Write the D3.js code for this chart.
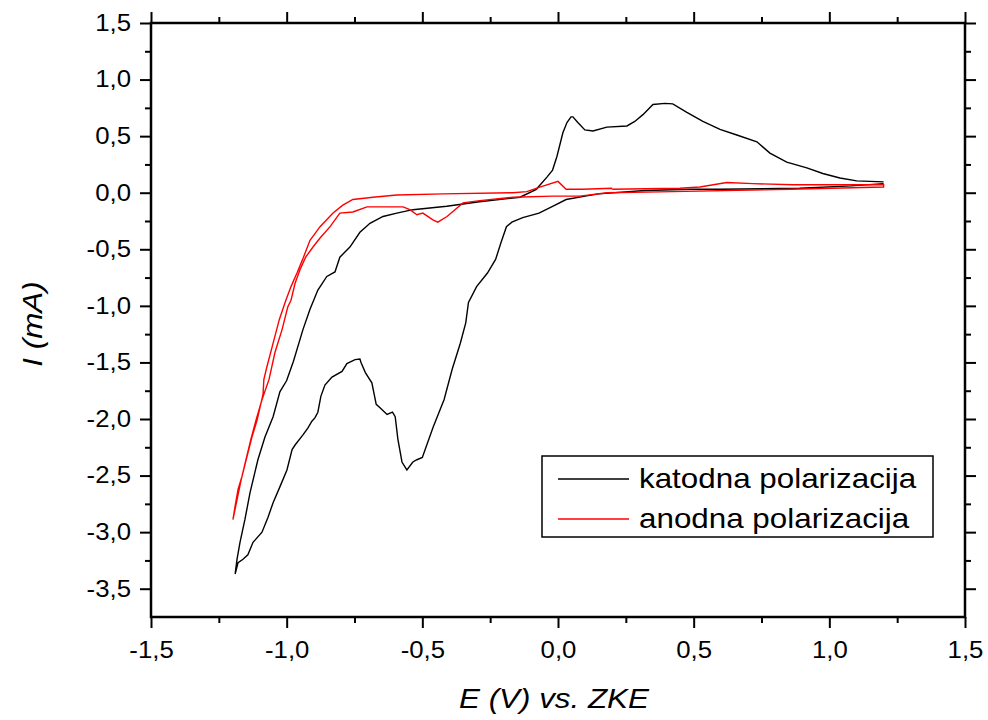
<!DOCTYPE html>
<html>
<head>
<meta charset="utf-8">
<title>Polarizacija</title>
<script src="https://cdn.jsdelivr.net/npm/d3@7"></script>
<style>
  body { margin: 0; background: #fff; }
  text { font-family: "Liberation Sans", Arial, sans-serif; }
</style>
</head>
<body>
<script>
// podaci ocitani s grafa: [E (V), I (mA)] redom kako ide sken
var katodna = [
  [1.20,0.08],[1.08,0.06],[0.89,0.04],[0.60,0.03],[0.49,0.03],[0.32,0.02],[0.15,-0.01],[0.10,-0.03],
  [0.03,-0.06],[-0.02,-0.12],[-0.07,-0.18],[-0.13,-0.22],[-0.17,-0.26],[-0.19,-0.30],[-0.21,-0.44],
  [-0.23,-0.59],[-0.26,-0.71],[-0.30,-0.83],[-0.33,-0.97],[-0.34,-1.15],[-0.36,-1.33],[-0.39,-1.56],
  [-0.42,-1.83],[-0.46,-2.07],[-0.50,-2.34],[-0.52,-2.36],[-0.535,-2.38],[-0.557,-2.45],[-0.575,-2.38],
  [-0.59,-2.18],[-0.60,-1.98],[-0.61,-1.94],[-0.63,-1.96],[-0.656,-1.90],[-0.67,-1.87],[-0.686,-1.68],
  [-0.71,-1.59],[-0.726,-1.50],[-0.73,-1.47],[-0.748,-1.475],[-0.778,-1.51],[-0.796,-1.58],[-0.833,-1.63],
  [-0.859,-1.70],[-0.874,-1.80],[-0.885,-1.94],[-0.896,-1.99],[-0.907,-2.02],[-0.922,-2.08],[-0.94,-2.14],
  [-0.969,-2.23],[-0.98,-2.27],[-0.999,-2.45],[-1.025,-2.60],[-1.05,-2.74],[-1.069,-2.87],[-1.091,-3.00],
  [-1.124,-3.09],[-1.143,-3.20],[-1.161,-3.24],[-1.179,-3.27],[-1.19,-3.37],
  [-1.183,-3.24],[-1.172,-3.09],[-1.154,-2.89],[-1.135,-2.65],[-1.106,-2.36],[-1.08,-2.16],[-1.05,-1.98],
  [-1.025,-1.76],[-1.0,-1.66],[-0.975,-1.49],[-0.94,-1.21],[-0.914,-1.03],[-0.885,-0.86],[-0.852,-0.74],
  [-0.822,-0.70],[-0.804,-0.57],[-0.767,-0.48],[-0.73,-0.35],[-0.693,-0.27],[-0.645,-0.21],[-0.594,-0.18],
  [-0.535,-0.15],[-0.41,-0.12],[-0.29,-0.08],[-0.14,-0.04],[-0.08,0.03],[-0.04,0.14],[-0.02,0.20],
  [-0.004,0.32],[0.018,0.53],[0.033,0.62],[0.048,0.67],[0.055,0.67],[0.073,0.62],[0.099,0.555],
  [0.129,0.546],[0.18,0.58],[0.254,0.59],[0.283,0.63],[0.313,0.69],[0.35,0.78],[0.394,0.79],[0.423,0.785],
  [0.475,0.71],[0.534,0.63],[0.597,0.56],[0.659,0.51],[0.733,0.45],[0.781,0.35],[0.843,0.27],[0.917,0.22],
  [0.976,0.17],[1.039,0.13],[1.101,0.105],[1.20,0.096]
];
var anodna = [
  [0.20,0.04],[0.09,0.03],[0.03,0.03],[0.00,0.10],[-0.067,0.05],[-0.115,0.01],[-0.166,0.00],[-0.424,-0.01],
  [-0.594,-0.02],[-0.682,-0.04],[-0.756,-0.06],[-0.793,-0.11],[-0.829,-0.18],[-0.877,-0.30],[-0.914,-0.42],
  [-0.938,-0.57],[-0.962,-0.71],[-0.984,-0.83],[-1.003,-0.95],[-1.027,-1.12],[-1.05,-1.33],[-1.073,-1.54],
  [-1.084,-1.65],[-1.087,-1.78],[-1.109,-2.01],[-1.128,-2.16],[-1.146,-2.33],[-1.165,-2.51],[-1.179,-2.62],
  [-1.19,-2.77],[-1.198,-2.89],
  [-1.187,-2.76],[-1.168,-2.54],[-1.15,-2.36],[-1.132,-2.18],[-1.113,-2.01],[-1.091,-1.83],[-1.065,-1.65],
  [-1.043,-1.41],[-1.017,-1.21],[-0.996,-1.01],[-0.984,-0.95],[-0.969,-0.80],[-0.951,-0.68],[-0.93,-0.57],
  [-0.903,-0.48],[-0.877,-0.40],[-0.84,-0.30],[-0.804,-0.18],[-0.756,-0.17],[-0.704,-0.125],[-0.645,-0.125],
  [-0.608,-0.125],[-0.571,-0.125],[-0.546,-0.15],[-0.52,-0.195],[-0.498,-0.18],[-0.461,-0.24],[-0.443,-0.26],
  [-0.409,-0.21],[-0.35,-0.09],[-0.288,-0.07],[-0.166,-0.04],[-0.019,-0.03],[0.081,-0.03],[0.18,0.00],
  [0.423,0.01],[0.854,0.03],[1.20,0.05],
  [1.20,0.07],[0.866,0.07],[0.718,0.08],[0.622,0.09],[0.523,0.05],[0.449,0.04],[0.20,0.03]
];
var serije = ["katodna polarizacija", "anodna polarizacija"];
var boje = ["#000000", "#ff0000"];
var xTicks = [-1.5, -1.0, -0.5, 0.0, 0.5, 1.0, 1.5];
var yTicks = [-3.5, -3.0, -2.5, -2.0, -1.5, -1.0, -0.5, 0.0, 0.5, 1.0, 1.5];
var xMinor = [-1.25, -0.75, -0.25, 0.25, 0.75, 1.25];
var yMinor = [-3.25, -2.75, -2.25, -1.75, -1.25, -0.75, -0.25, 0.25, 0.75, 1.25];

var width = 988, height = 720;
var m = {left: 151, right: 965, top: 23, bottom: 617};

var svg = d3.select("body").append("svg").attr("width", width).attr("height", height);

var x = d3.scaleLinear().domain([-1.5, 1.5]).range([m.left, m.right]);
var y = d3.scaleLinear().domain([-3.75, 1.5]).range([m.bottom, m.top]);

// zarez umjesto tocke, obicni minus
function fmt(d) { return d3.format(".1f")(d).replace("−", "-").replace(".", ","); }

function styleAxis(g) {
  g.select(".domain").remove();
  g.selectAll("line").attr("stroke", "#000").attr("stroke-width", 2);
  g.selectAll("text").attr("fill", "#000").style("font-size", "23px");
}

// glavne osi s oznakama
svg.append("g").attr("transform", "translate(0," + m.bottom + ")")
  .call(d3.axisBottom(x).tickValues(xTicks).tickFormat(fmt).tickSize(11).tickSizeOuter(0).tickPadding(14))
  .call(styleAxis);
svg.append("g").attr("transform", "translate(" + m.left + ",0)")
  .call(d3.axisLeft(y).tickValues(yTicks).tickFormat(fmt).tickSize(11).tickSizeOuter(0).tickPadding(9))
  .call(styleAxis);
// sporedne crtice
svg.append("g").attr("transform", "translate(0," + m.bottom + ")")
  .call(d3.axisBottom(x).tickValues(xMinor).tickFormat("").tickSize(6).tickSizeOuter(0)).call(styleAxis);
svg.append("g").attr("transform", "translate(" + m.left + ",0)")
  .call(d3.axisLeft(y).tickValues(yMinor).tickFormat("").tickSize(6).tickSizeOuter(0)).call(styleAxis);
// gornja i desna os bez oznaka
svg.append("g").attr("transform", "translate(0," + m.top + ")")
  .call(d3.axisTop(x).tickValues(xTicks).tickFormat("").tickSize(11).tickSizeOuter(0)).call(styleAxis);
svg.append("g").attr("transform", "translate(0," + m.top + ")")
  .call(d3.axisTop(x).tickValues(xMinor).tickFormat("").tickSize(6).tickSizeOuter(0)).call(styleAxis);
svg.append("g").attr("transform", "translate(" + m.right + ",0)")
  .call(d3.axisRight(y).tickValues(yTicks).tickFormat("").tickSize(11).tickSizeOuter(0)).call(styleAxis);
svg.append("g").attr("transform", "translate(" + m.right + ",0)")
  .call(d3.axisRight(y).tickValues(yMinor).tickFormat("").tickSize(6).tickSizeOuter(0)).call(styleAxis);

// okvir
svg.append("rect")
  .attr("x", m.left).attr("y", m.top)
  .attr("width", m.right - m.left).attr("height", m.bottom - m.top)
  .attr("fill", "none").attr("stroke", "#000").attr("stroke-width", 2.5);

var line = d3.line().x(function(d){ return x(d[0]); }).y(function(d){ return y(d[1]); });

svg.append("path").datum(katodna)
  .attr("d", line).attr("fill", "none").attr("stroke", boje[0]).attr("stroke-width", 1.4);
svg.append("path").datum(anodna)
  .attr("d", line).attr("fill", "none").attr("stroke", boje[1]).attr("stroke-width", 1.4);

// naslovi osi
svg.append("text")
  .attr("x", (m.left + m.right) / 2 - 4).attr("y", 708)
  .attr("text-anchor", "middle").style("font-size", "28px").style("font-style", "italic")
  .text("E (V) vs. ZKE");
svg.append("text")
  .attr("transform", "translate(42," + 324 + ") rotate(-90)")
  .attr("text-anchor", "middle").style("font-size", "28px").style("font-style", "italic")
  .text("I (mA)");

// legenda
var leg = svg.append("g");
leg.append("rect")
  .attr("x", 542).attr("y", 456).attr("width", 391).attr("height", 81)
  .attr("fill", "#fff").attr("stroke", "#000").attr("stroke-width", 1.5);
serije.forEach(function(s, i) {
  var ly = 479 + i * 40;
  leg.append("line").attr("x1", 558).attr("x2", 629).attr("y1", ly).attr("y2", ly)
    .attr("stroke", boje[i]).attr("stroke-width", 1.4);
  leg.append("text").attr("x", 639).attr("y", ly + 9)
    .style("font-size", "28px").text(s);
});

// tekst u originalu je malo siri od Ariala, pa ga razvucem vodoravno
svg.selectAll("text").each(function() {
  var w = this.getComputedTextLength();
  if (w > 0) d3.select(this).attr("textLength", w * 1.12).attr("lengthAdjust", "spacingAndGlyphs");
});
</script>
</body>
</html>
